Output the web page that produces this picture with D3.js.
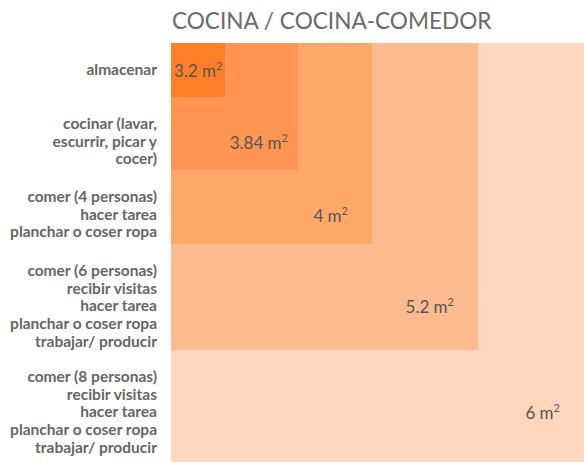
<!DOCTYPE html>
<html>
<head>
  <meta charset="utf-8">
  <title>Cocina / cocina-comedor</title>
  <style>
    body { margin: 0; background: #fff; }
    svg { display: block; font-family: Lato, sans-serif; }
    .titulo { fill: #6b6b6b; font-size: 22.6px; }
    .actividad { fill: #666; font-size: 15.5px; font-weight: bold; }
    .area { fill: #555; font-size: 17px; }
  </style>
</head>
<body>
  <svg id="chart"></svg>

  <script src="https://d3js.org/d3.v7.min.js"></script>
  <script>
    // datos del gráfico
    const areas = [3.2, 3.84, 4, 5.2, 6];
    // lado de cada cuadro (escala relativa del dibujo)
    const lados = [0.54, 1.27, 2.01, 3.07, 4.19];
    const actividades = [
      ["almacenar"],
      ["cocinar (lavar,", "escurrir, picar y", "cocer)"],
      ["comer (4 personas)", "hacer tarea", "planchar o coser ropa"],
      ["comer (6 personas)", "recibir visitas", "hacer tarea", "planchar o coser ropa", "trabajar/ producir"],
      ["comer (8 personas)", "recibir visitas", "hacer tarea", "planchar o coser ropa", "trabajar/ producir"]
    ];
    const colores = ["#ff7f29", "#ff9550", "#ffa86a", "#ffbb90", "#ffd6bc"];

    const width = 584, height = 462;
    const x0 = 171, y0 = 43;
    const lineH = 17.7;

    const svg = d3.select("#chart")
      .attr("width", width)
      .attr("height", height);

    const s = d3.scaleLinear().domain([0, 4.19]).range([0, 419]);

    svg.append("text")
      .attr("class", "titulo")
      .attr("x", 172)
      .attr("y", 29)
      .text("COCINA / COCINA-COMEDOR");

    const g = svg.append("g").attr("transform", `translate(${x0},${y0})`);

    // cuadros del mayor al menor
    const idx = d3.range(areas.length);
    g.selectAll("rect")
      .data(idx.slice().reverse())
      .join("rect")
      .attr("x", 0)
      .attr("y", 0)
      .attr("width", i => s(lados[i]))
      .attr("height", i => s(lados[i]))
      .attr("fill", i => colores[i]);

    // inicio de cada franja = borde inferior del cuadro anterior
    const topOf = i => (i === 0 ? 0 : s(lados[i - 1]));
    // borde derecho visible de cada cuadro
    const rightOf = i => Math.min(s(lados[i]), width - x0);

    // etiquetas de actividades
    const filas = svg.append("g").selectAll("text")
      .data(idx)
      .join("text")
      .attr("class", "actividad")
      .attr("text-anchor", "end");
    filas.each(function (i) {
      const t = d3.select(this);
      actividades[i].forEach((linea, k) => {
        t.append("tspan")
          .attr("x", 157)
          .attr("y", y0 + topOf(i) + 32 + k * lineH)
          .text(linea);
      });
    });

    // etiquetas de área
    const etq = g.selectAll("text.area")
      .data(idx)
      .join("text")
      .attr("class", "area")
      .attr("text-anchor", i => (i === 0 ? "start" : "end"))
      .attr("x", i => (i === 0 ? 3 : rightOf(i) - (i === 1 ? 10 : 24)))
      .attr("y", i => topOf(i) + 34 + (actividades[i].length - 1) * lineH / 2);
    etq.append("tspan").text(i => areas[i] + " m");
    etq.append("tspan")
      .attr("dy", -7)
      .attr("font-size", 11)
      .text("2");
  </script>
</body>
</html>
